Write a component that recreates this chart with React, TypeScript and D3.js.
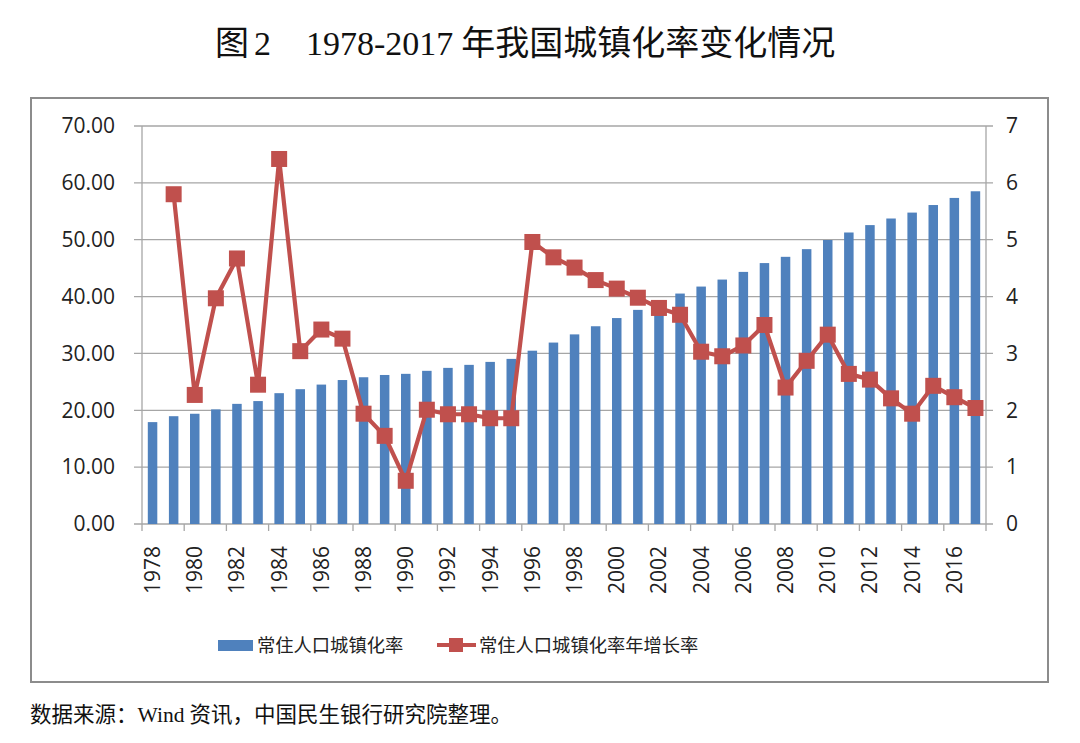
import React from "react";
import * as d3 from "d3";

const years: number[] = d3.range(1978, 2018);
const urbanRate: number[] = [
  17.92, 18.96, 19.39, 20.16, 21.13, 21.62, 23.01, 23.71, 24.52, 25.32,
  25.81, 26.21, 26.41, 26.94, 27.46, 27.99, 28.51, 29.04, 30.48, 31.91,
  33.35, 34.78, 36.22, 37.66, 39.09, 40.53, 41.76, 42.99, 44.34, 45.89,
  46.99, 48.34, 49.95, 51.27, 52.57, 53.73, 54.77, 56.1, 57.35, 58.52,
];
const growthRate: (number | null)[] = [
  null, 5.8, 2.27, 3.97, 4.67, 2.45, 6.42, 3.04, 3.42, 3.26,
  1.94, 1.55, 0.76, 2.01, 1.93, 1.93, 1.86, 1.86, 4.96, 4.69,
  4.51, 4.29, 4.14, 3.98, 3.8, 3.68, 3.03, 2.95, 3.14, 3.5,
  2.4, 2.87, 3.33, 2.64, 2.54, 2.21, 1.94, 2.43, 2.23, 2.04,
];
const leftTicks: number[] = [0, 10, 20, 30, 40, 50, 60, 70];
const rightTicks: number[] = [0, 1, 2, 3, 4, 5, 6, 7];
const seriesNames = ["常住人口城镇化率", "常住人口城镇化率年增长率"];

const BLUE = "#4F81BD";
const RED = "#C0504D";
const GRID = "#a6a6a6";
const SANS = "'Open Sans', 'Noto Sans CJK SC', sans-serif";
const CJK = "'Noto Sans CJK SC', sans-serif";
const SERIF = "'Liberation Serif', 'Noto Sans CJK SC', serif";

export default function App() {
  const W = 1080, H = 743;
  const left = 142, right = 986, top = 126, bottom = 524;
  const x = d3.scaleBand<number>().domain(years).range([left, right]).paddingInner(0).paddingOuter(0);
  const yL = d3.scaleLinear().domain([0, 70]).range([bottom, top]);
  const yR = d3.scaleLinear().domain([0, 7]).range([bottom, top]);
  const bw = x.bandwidth() * 0.45;
  const cx = (y: number) => (x(y) as number) + x.bandwidth() / 2;

  const pts = years
    .map((y, i) => ({ y, v: growthRate[i] }))
    .filter((d) => d.v !== null) as { y: number; v: number }[];
  const line = d3.line<{ y: number; v: number }>().x((d) => cx(d.y)).y((d) => yR(d.v));

  const tickBounds = d3.range(0, years.length + 1, 2).map((i) => left + i * x.bandwidth());
  const labelYears = years.filter((_, i) => i % 2 === 0);
  const ms = 16;

  return (
    <svg width={W} height={H} style={{ position: "absolute", left: 0, top: 0, background: "#fff" }}>
      <rect x={0} y={0} width={W} height={H} fill="#fff" />
      {/* title */}
      <text x={215} y={55} fontSize={34} fill="#111" fontFamily={CJK}>图</text>
      <text x={254} y={55} fontSize={34} fill="#111" fontFamily={SERIF}>2</text>
      <text x={306} y={55} fontSize={34} fill="#111" fontFamily={SERIF}>
        <tspan fontFamily={SERIF}>1978-2017</tspan>
        <tspan fontFamily={CJK} dx={8}>年我国城镇化率变化情况</tspan>
      </text>
      {/* frame */}
      <rect x={31} y={98} width={1017} height={584} fill="none" stroke="#8c8c8c" strokeWidth={2} />
      {/* grid */}
      {leftTicks.map((t) => (
        <line key={t} x1={left - 8} x2={right + 7} y1={yL(t)} y2={yL(t)} stroke={GRID} strokeWidth={1.3} />
      ))}
      {/* axes */}
      <line x1={left} x2={left} y1={top} y2={bottom} stroke={GRID} strokeWidth={1.3} />
      <line x1={right} x2={right} y1={top} y2={bottom} stroke={GRID} strokeWidth={1.3} />
      {tickBounds.map((b, i) => (
        <line key={i} x1={b} x2={b} y1={bottom} y2={bottom + 7} stroke={GRID} strokeWidth={1.3} />
      ))}
      {/* left labels */}
      {leftTicks.map((t) => (
        <text key={t} x={115} y={yL(t)} dy="0.35em" textAnchor="end" fontSize={21} fill="#222" fontFamily={SANS}>
          {t.toFixed(2)}
        </text>
      ))}
      {rightTicks.map((t) => (
        <text key={t} x={1006} y={yR(t)} dy="0.35em" textAnchor="start" fontSize={21} fill="#222" fontFamily={SANS}>
          {t}
        </text>
      ))}
      {/* x labels */}
      {labelYears.map((yv) => (
        <text
          key={yv}
          transform={`translate(${cx(yv) + 7.5},${546}) rotate(-90)`}
          textAnchor="end"
          fontSize={21}
          fill="#222"
          fontFamily={SANS}
        >
          {yv}
        </text>
      ))}
      {/* bars */}
      {years.map((yv, i) => (
        <rect key={yv} x={cx(yv) - bw / 2} y={yL(urbanRate[i])} width={bw} height={bottom - yL(urbanRate[i])} fill={BLUE} />
      ))}
      {/* line */}
      <path d={line(pts) || ""} fill="none" stroke={RED} strokeWidth={4.2} strokeLinejoin="round" />
      {pts.map((d) => (
        <rect key={d.y} x={cx(d.y) - ms / 2} y={yR(d.v) - ms / 2} width={ms} height={ms} fill={RED} />
      ))}
      {/* legend */}
      <rect x={218} y={640} width={35} height={11} fill={BLUE} />
      <text x={257} y={646} dy="0.35em" fontSize={18.3} fill="#222" fontFamily={CJK}>{seriesNames[0]}</text>
      <line x1={437} x2={476} y1={645} y2={645} stroke={RED} strokeWidth={4} />
      <rect x={449} y={638} width={14} height={14} fill={RED} />
      <text x={479} y={646} dy="0.35em" fontSize={18.3} fill="#222" fontFamily={CJK}>{seriesNames[1]}</text>
      {/* source */}
      <text x={30} y={722} fontSize={21.5} fill="#111" fontFamily={CJK}>
        <tspan>数据来源：</tspan>
        <tspan fontFamily={SERIF}>Wind</tspan>
        <tspan dx={5}>资讯，中国民生银行研究院整理。</tspan>
      </text>
    </svg>
  );
}
